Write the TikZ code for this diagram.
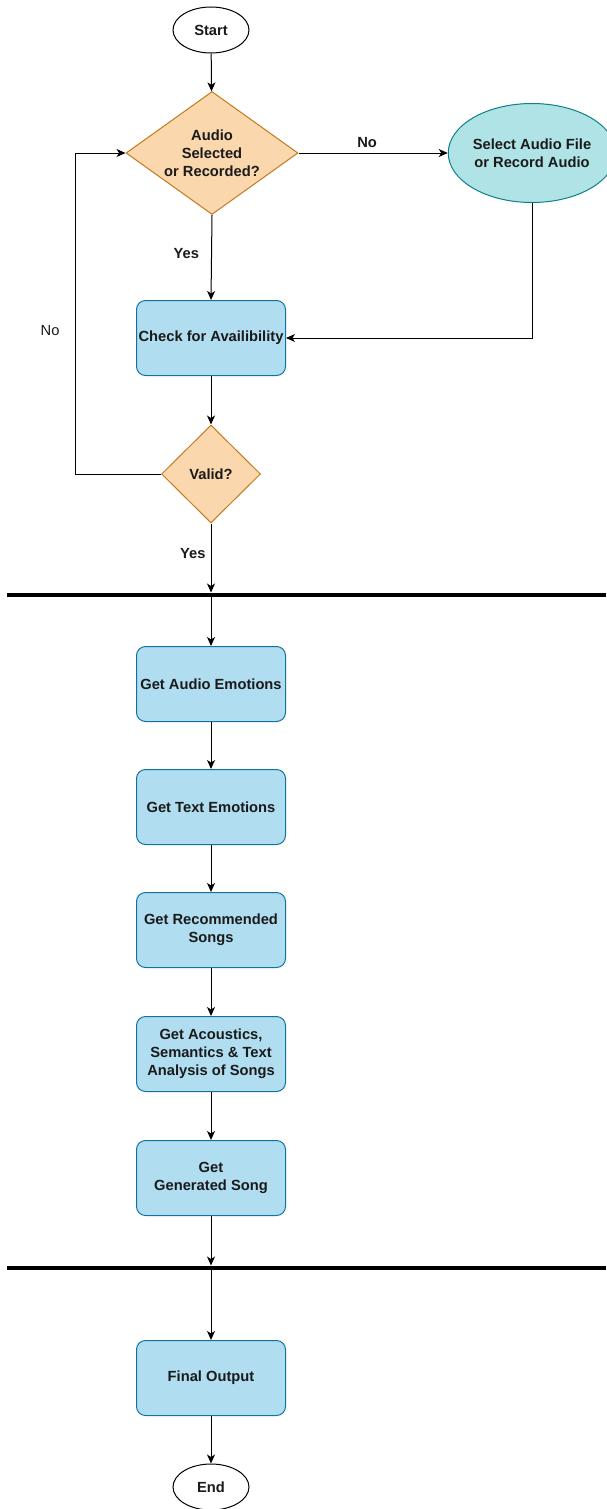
\documentclass[tikz,border=0pt]{standalone}
\usepackage{fontspec}
\setmainfont{Liberation Sans}
\usetikzlibrary{shapes.geometric,arrows.meta}
\definecolor{boxfill}{HTML}{B1DDF0}
\definecolor{boxline}{HTML}{10739E}
\definecolor{decfill}{HTML}{FAD7AC}
\definecolor{decline}{HTML}{C47A1E}
\definecolor{selfill}{HTML}{B0E3E6}
\definecolor{selline}{HTML}{0E8088}
\definecolor{txt}{HTML}{1A1A1A}
\begin{document}
\begin{tikzpicture}[x=1pt,y=-1pt,
 every node/.style={font=\bfseries\fontsize{14.7}{18}\selectfont, text=txt},
 proc/.style={rectangle, rounded corners=9pt, draw=boxline, fill=boxfill, line width=1pt, minimum width=149pt, minimum height=75pt, align=center, inner sep=0pt},
 dec/.style={diamond, draw=decline, fill=decfill, line width=1pt, align=center, inner sep=0pt, shape aspect=1.4},
 term/.style={ellipse, draw=black, fill=white, line width=1pt, minimum width=76pt, minimum height=46pt, inner sep=0pt},
 sel/.style={ellipse, draw=selline, fill=selfill, line width=1pt, minimum width=147pt, minimum height=99pt, align=center, inner sep=0pt},
 conn/.style={-{Stealth[length=9pt,width=8pt,inset=2.5pt]}, line width=1pt, draw=black},
 lbl/.style={inner sep=0pt},
 bar/.style={line width=4.5pt, draw=black}
]
\useasboundingbox (0,0) rectangle (606,1509);

% nodes
\node[term] (start) at (211,30) {Start};
\node[dec, minimum width=172pt, minimum height=123pt] (d1) at (212,153) {Audio\\Selected\\or Recorded?};
\node[sel] (sel) at (532,153) {Select Audio File\\or Record Audio};
\node[proc] (chk) at (211,338) {Check for Availibility};
\node[dec, minimum width=99pt, minimum height=98pt] (valid) at (211,474) {Valid?};
\node[proc] (ae) at (211,684) {Get Audio Emotions};
\node[proc] (te) at (211,807) {Get Text Emotions};
\node[proc] (rs) at (211,930) {Get Recommended\\Songs};
\node[proc] (ac) at (211,1054) {Get Acoustics,\\Semantics \& Text\\Analysis of Songs};
\node[proc] (gs) at (211,1178) {Get\\Generated Song};
\node[proc] (fo) at (211,1378) {Final Output};
\node[term] (end) at (211,1487) {End};

% bars
\coordinate (bar1l) at (7,595);
\coordinate (bar1r) at (606,595);
\coordinate (bar2l) at (7,1268);
\coordinate (bar2r) at (606,1268);
\draw[bar] (bar1l) -- (bar1r);
\draw[bar] (bar2l) -- (bar2r);
\coordinate (b1) at (211,595);
\coordinate (b2) at (211,1268);
\coordinate (lp) at (75,474);

% connectors
\draw[conn] (start) -- (d1);
\draw[conn] (d1.east) -- node[lbl, pos=0.46, above=5pt] {No} (sel.west);
\draw[conn] (d1.south) -- node[lbl, pos=0.456, left=12pt] {Yes} (chk.north);
\draw[conn] (sel.south) |- (chk.east);
\draw[conn] (chk) -- (valid);
\draw[conn] (valid.west) -- (lp) |- node[lbl, pos=0.223, left=15pt, font=\mdseries\fontsize{14.7}{18}\selectfont] {No} (d1.west);
\draw[conn, shorten >=2.5pt] (valid.south) -- node[lbl, pos=0.42, left=5pt] {Yes} (b1);
\draw[conn] (b1) -- (ae);
\draw[conn] (ae) -- (te);
\draw[conn] (te) -- (rs);
\draw[conn] (rs) -- (ac);
\draw[conn] (ac) -- (gs);
\draw[conn, shorten >=2.5pt] (gs) -- (b2);
\draw[conn] (b2) -- (fo);
\draw[conn] (fo) -- (end);
\end{tikzpicture}
\end{document}
